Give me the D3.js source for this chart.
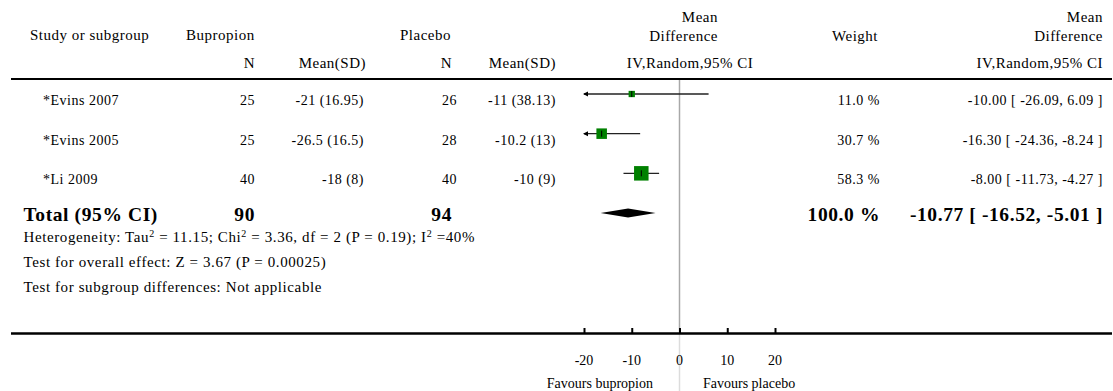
<!DOCTYPE html>
<html>
<head>
<meta charset="utf-8">
<script src="https://cdn.jsdelivr.net/npm/d3@7"></script>
<style>
  html, body { margin: 0; padding: 0; background: #fff; }
  svg { display: block; font-family: "Liberation Serif", "DejaVu Serif", serif; }
</style>
</head>
<body>
<svg id="chart" width="1113" height="391"></svg>
<script>
// Study-level data
const studies   = ["*Evins 2007", "*Evins 2005", "*Li 2009"];
const bupN      = [25, 25, 40];
const bupMeanSD = ["-21 (16.95)", "-26.5 (16.5)", "-18 (8)"];
const plaN      = [26, 28, 40];
const plaMeanSD = ["-11 (38.13)", "-10.2 (13)", "-10 (9)"];
const md        = [-10.00, -16.30, -8.00];
const ciLow     = [-26.09, -24.36, -11.73];
const ciHigh    = [6.09, -8.24, -4.27];
const weights   = [11.0, 30.7, 58.3];

// Pooled estimate
const totalBupN   = 90;
const totalPlaN   = 94;
const totalMD     = -10.77;
const totalLow    = -16.52;
const totalHigh   = -5.01;
const totalWeight = 100.0;

// Axis
const axisTicks = [-20, -10, 0, 10, 20];

const heterogeneity = [
  ["Heterogeneity: Tau", ""], ["2", "sup"], [" = 11.15; Chi", ""], ["2", "sup"],
  [" = 3.36, df = 2 (P = 0.19); I", ""], ["2", "sup"], [" =40%", ""]
];
const footnotes = [
  "Test for overall effect: Z = 3.67 (P = 0.00025)",
  "Test for subgroup differences: Not applicable"
];

const svg = d3.select("#chart");
const H = 391;

const x = d3.scaleLinear().domain([-20, 20]).range([584, 775]);
const y = d3.scaleLinear().domain([0, 3]).range([94, 213]);
const boxSize = d3.scaleSqrt().domain([0, d3.max(weights)]).range([0, 14.5]);

// plain hyphen-minus, as printed in the table
const f2 = v => d3.format(".2f")(v).replace("\u2212", "-");
const f1 = v => d3.format(".1f")(v).replace("\u2212", "-");
const fd = v => d3.format("d")(v).replace("\u2212", "-");

const FS = 14, LS = 0.5;
function txt(xp, yp, s, anchor, opts = {}) {
  return svg.append("text")
    .attr("x", xp).attr("y", yp)
    .attr("text-anchor", anchor || "start")
    .attr("font-size", opts.size || FS)
    .attr("font-weight", opts.bold ? "bold" : "normal")
    .attr("letter-spacing", opts.ls != null ? opts.ls : LS)
    .attr("fill", "#000")
    .text(s);
}

// Header
const hd = { size: 15 };
txt(30, 40, "Study or subgroup", "start", hd);
txt(186, 40, "Bupropion", "start", hd);
txt(400, 40, "Placebo", "start", hd);
txt(718, 22, "Mean", "end", hd);
txt(718, 41, "Difference", "end", hd);
txt(878, 41, "Weight", "end", hd);
txt(1103, 22, "Mean", "end", hd);
txt(1103, 41, "Difference", "end", hd);
txt(255, 67.5, "N", "end", hd);
txt(366, 67.5, "Mean(SD)", "end", hd);
txt(452, 67.5, "N", "end", hd);
txt(556, 67.5, "Mean(SD)", "end", hd);
txt(690, 67.5, "IV,Random,95% CI", "middle", hd);
txt(1103, 67.5, "IV,Random,95% CI", "end", hd);

// Zero line
svg.append("line")
  .attr("x1", x(0)).attr("x2", x(0))
  .attr("y1", 80).attr("y2", 334)
  .attr("stroke", "#a8a8a8").attr("stroke-width", 1.5);
svg.append("line")
  .attr("x1", x(0)).attr("x2", x(0))
  .attr("y1", 334).attr("y2", H)
  .attr("stroke", "#dcdcdc").attr("stroke-width", 1.5);

// Header rule
svg.append("line")
  .attr("x1", 11).attr("x2", 1112)
  .attr("y1", 79).attr("y2", 79)
  .attr("stroke", "#000").attr("stroke-width", 2);

// Study rows
studies.forEach((s, i) => {
  const yc = y(i);
  const ty = yc + 11;
  txt(43, ty, s);
  txt(255, ty, bupN[i], "end");
  txt(364, ty, bupMeanSD[i], "end");
  txt(457, ty, plaN[i], "end");
  txt(556, ty, plaMeanSD[i], "end");
  txt(880, ty, f1(weights[i]) + " %", "end");
  txt(1103, ty, `${f2(md[i])} [ ${f2(ciLow[i])}, ${f2(ciHigh[i])} ]`, "end");

  const [d0, d1] = x.domain();
  const lo = Math.max(ciLow[i], d0), hi = Math.min(ciHigh[i], d1);
  svg.append("line")
    .attr("x1", x(lo)).attr("x2", x(hi))
    .attr("y1", yc).attr("y2", yc)
    .attr("stroke", "#222").attr("stroke-width", 1.4);
  if (ciLow[i] < d0) {
    const ax = x(d0) - 1;
    svg.append("path")
      .attr("d", `M${ax},${yc} L${ax + 5},${yc - 2.5} L${ax + 5},${yc + 2.5} Z`)
      .attr("fill", "#000");
  }
  if (ciHigh[i] > d1) {
    const ax = x(d1) + 1;
    svg.append("path")
      .attr("d", `M${ax},${yc} L${ax - 5},${yc - 2.5} L${ax - 5},${yc + 2.5} Z`)
      .attr("fill", "#000");
  }
  const b = boxSize(weights[i]);
  svg.append("rect")
    .attr("x", x(md[i]) - b / 2).attr("y", yc - b / 2)
    .attr("width", b).attr("height", b)
    .attr("fill", "#008000");
  svg.append("line")
    .attr("x1", x(md[i])).attr("x2", x(md[i]))
    .attr("y1", yc - 3).attr("y2", yc + 3)
    .attr("stroke", "#000").attr("stroke-width", 1);
});

// Total row
const yt = y(3);
const tty = yt + 7.5;
const bold = { bold: true, size: 19.5, ls: 0.6 };
txt(23.5, tty, "Total (95% CI)", "start", bold);
txt(255, tty, totalBupN, "end", bold);
txt(452, tty, totalPlaN, "end", bold);
txt(880, tty, f1(totalWeight) + " %", "end", bold);
txt(1103, tty, `${f2(totalMD)} [ ${f2(totalLow)}, ${f2(totalHigh)} ]`, "end", bold);
svg.append("path")
  .attr("d", `M${x(totalLow)},${yt} L${x(totalMD)},${yt - 4.5} L${x(totalHigh)},${yt} L${x(totalMD)},${yt + 4.5} Z`)
  .attr("fill", "#000");

// Footnotes
const ft = { size: 15, ls: 0.6 };
const het = svg.append("text")
  .attr("x", 23.5).attr("y", 242)
  .attr("font-size", ft.size).attr("letter-spacing", ft.ls).attr("fill", "#000");
heterogeneity.forEach(([s, kind], k) => {
  const prevSup = k > 0 && heterogeneity[k - 1][1] === "sup";
  const ts = het.append("tspan").text(s);
  if (kind === "sup") ts.attr("dy", -5).attr("font-size", 10);
  else if (prevSup) ts.attr("dy", 5);
});
footnotes.forEach((f, i) => txt(23.5, 267 + i * 24.5, f, "start", ft));

// Bottom rule across the full width
svg.append("line")
  .attr("x1", 11).attr("x2", 1112)
  .attr("y1", 333.5).attr("y2", 333.5)
  .attr("stroke", "#000").attr("stroke-width", 2.5);

const axis = d3.axisTop(x).tickValues(axisTicks).tickSize(5).tickFormat(fd);
const ag = svg.append("g").attr("transform", "translate(0,333)").call(axis);
ag.select(".domain").remove();
ag.selectAll(".tick line").attr("stroke", "#000").attr("stroke-width", 2);
ag.selectAll(".tick text").remove();
axisTicks.forEach(t => txt(x(t), 364.5, fd(t), "middle", { ls: 0 }));

txt(x(0) - 26.5, 387.5, "Favours bupropion", "end", { ls: 0 });
txt(x(0) + 23.5, 387.5, "Favours placebo", "start", { ls: 0 });
</script>
</body>
</html>
